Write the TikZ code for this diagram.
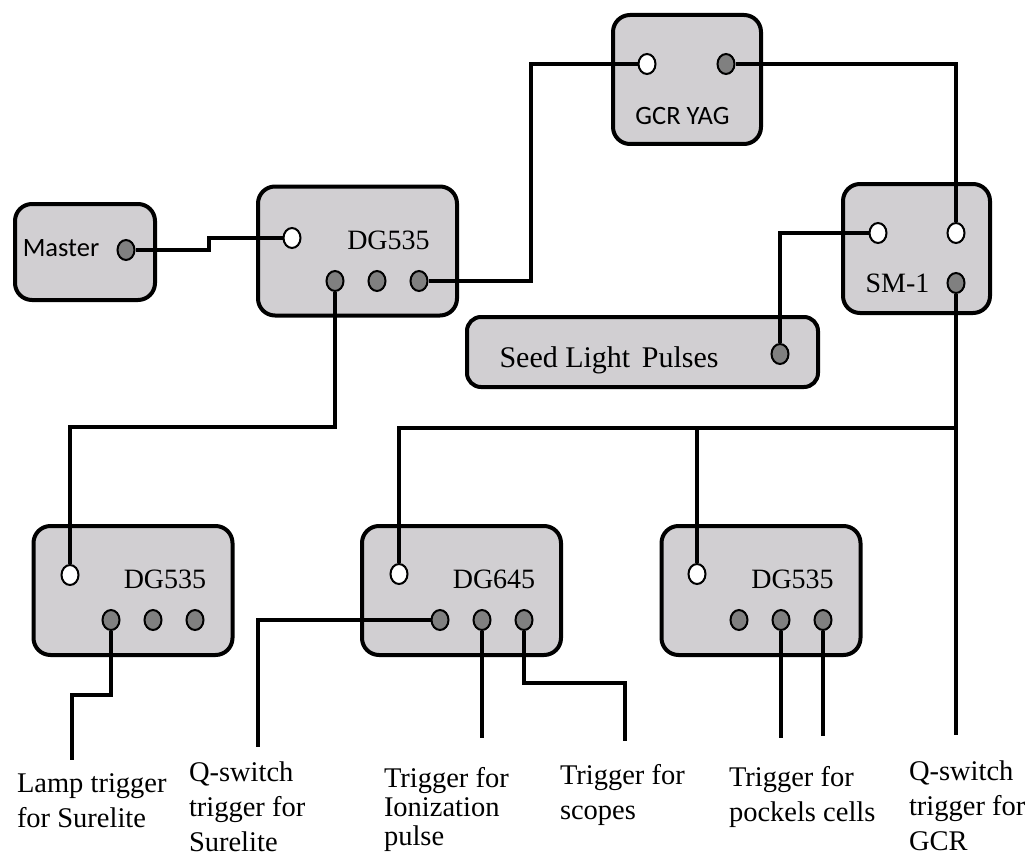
\documentclass[tikz,border=0pt]{standalone}
\usepackage{fontspec}
\setmainfont{Liberation Serif}
\newfontfamily\calfont{Carlito}
\usetikzlibrary{positioning,shapes.geometric}
\definecolor{boxgray}{RGB}{209,207,210}
\definecolor{portgray}{RGB}{128,128,128}

\begin{document}
\begin{tikzpicture}[x=1pt,y=-1pt,node distance=42pt,on grid,line width=4pt]
  \tikzstyle{box}=[draw,rounded corners=17pt,fill=boxgray,minimum width=199pt,minimum height=129pt,inner sep=0pt]
  \tikzstyle{port}=[draw,ellipse,line width=2pt,minimum width=17pt,minimum height=20pt,inner sep=0pt]
  \tikzstyle{inport}=[port,fill=white]
  \tikzstyle{outport}=[port,fill=portgray]
  \tikzstyle{devname}=[anchor=base,inner sep=0pt,font=\fontsize{28}{34}\selectfont]
  \tikzstyle{calname}=[devname,font=\calfont\fontsize{26.5}{32}\selectfont]
  \tikzstyle{cabname}=[anchor=north west,inner sep=0pt,align=left,font=\fontsize{28.5}{35}\selectfont]

  \useasboundingbox (0,0) rectangle (1033,856);

  \node[box,minimum width=140pt,minimum height=96pt] (master) at (85,252) {};
  \node[box] (dg_a) at (357.5,251) {};
  \node[box,minimum width=148pt] (gcr) at (687,79.5) {};
  \node[box,minimum width=147pt] (sm) at (916.5,248.5) {};
  \node[box,minimum width=351pt,minimum height=70pt,rounded corners=14pt] (seed) at (642.5,352) {};
  \node[box] (dg_b) at (133,590.5) {};
  \node[box] (dg_c) at (461.5,590.5) {};
  \node[box] (dg_d) at (761,590.5) {};

  \node[calname] (master_t) at (61,256.7) {Master};
  \node[devname] (dg_a_t) at (388.5,249) {DG535};
  \node[calname] (gcr_t) at (682.5,124.3) {GCR YAG};
  \node[devname] (sm_t) at (897.5,292) {SM-1};
  \node[devname,font=\fontsize{30}{34}\selectfont] (seed_t) at (609,367) {Seed Light\hspace{4pt} Pulses};
  \node[devname] (dg_b_t) at (165,588) {DG535};
  \node[devname] (dg_c_t) at (494,588) {DG645};
  \node[devname] (dg_d_t) at (792.5,588) {DG535};

  \node[outport] (master_o) at (126,250) {};
  \node[inport] (dg_a_in) at (292,238) {};
  \node[outport] (dg_a_1) at (335,281) {};
  \node[outport,right=of dg_a_1] (dg_a_2) {};
  \node[outport,right=of dg_a_2] (dg_a_3) {};
  \node[inport] (gcr_in) at (647,64) {};
  \node[outport] (gcr_o) at (726,64) {};
  \node[inport] (sm_in1) at (878,233) {};
  \node[inport] (sm_in2) at (956,233) {};
  \node[outport] (sm_o) at (956,283) {};
  \node[outport] (seed_o) at (780,354) {};
  \node[inport] (dg_b_in) at (70,575) {};
  \node[outport] (dg_b_1) at (111,620) {};
  \node[outport,right=of dg_b_1] (dg_b_2) {};
  \node[outport,right=of dg_b_2] (dg_b_3) {};
  \node[inport] (dg_c_in) at (399,574) {};
  \node[outport] (dg_c_1) at (440,620) {};
  \node[outport,right=of dg_c_1] (dg_c_2) {};
  \node[outport,right=of dg_c_2] (dg_c_3) {};
  \node[inport] (dg_d_in) at (697,574) {};
  \node[outport] (dg_d_1) at (739,620) {};
  \node[outport,right=of dg_d_1] (dg_d_2) {};
  \node[outport,right=of dg_d_2] (dg_d_3) {};

  \coordinate (lamp) at (72,760);
  \coordinate (qsw_sl) at (258,747);
  \coordinate (ion) at (482,738);
  \coordinate (scope) at (625,741);
  \coordinate (pock1) at (781,738);
  \coordinate (pock2) at (823,736);
  \coordinate (qsw_gcr) at (956,735);
  \coordinate (bus) at (956,428);

  \draw (master_o) -- (209,250) |- (dg_a_in);
  \draw (dg_a_3) -- (531,281) |- (gcr_in);
  \draw (gcr_o) -| (sm_in2);
  \draw (seed_o) |- (sm_in1);
  \draw (sm_o) -- (qsw_gcr);
  \draw (dg_c_in) |- (bus);
  \draw (dg_d_in) -- (dg_d_in |- bus);
  \draw (dg_a_1) -- (335,427) -| (dg_b_in);
  \draw (dg_b_1) -- (111,695) -| (lamp);
  \draw (dg_c_1) -| (qsw_sl);
  \draw (dg_c_2) -- (ion);
  \draw (dg_c_3) -- (524,683) -| (scope);
  \draw (dg_d_2) -- (pock1);
  \draw (dg_d_3) -- (pock2);

  \node[cabname] (lamp_t) at (15,765.5) {\strut Lamp trigger\\for Surelite};
  \node[cabname] (qsw_sl_t) at (187,755) {\strut Q-switch\\trigger for\\Surelite};
  \node[cabname,font=\fontsize{28.5}{29}\selectfont] (ion_t) at (382,764.7) {\strut Trigger for\\Ionization\\pulse};
  \node[cabname] (scope_t) at (558,757.5) {\strut Trigger for\\scopes};
  \node[cabname] (pock_t) at (727,759.5) {\strut Trigger for\\pockels cells};
  \node[cabname] (qsw_gcr_t) at (907,754) {\strut Q-switch\\trigger for\\GCR};
\end{tikzpicture}
\end{document}
